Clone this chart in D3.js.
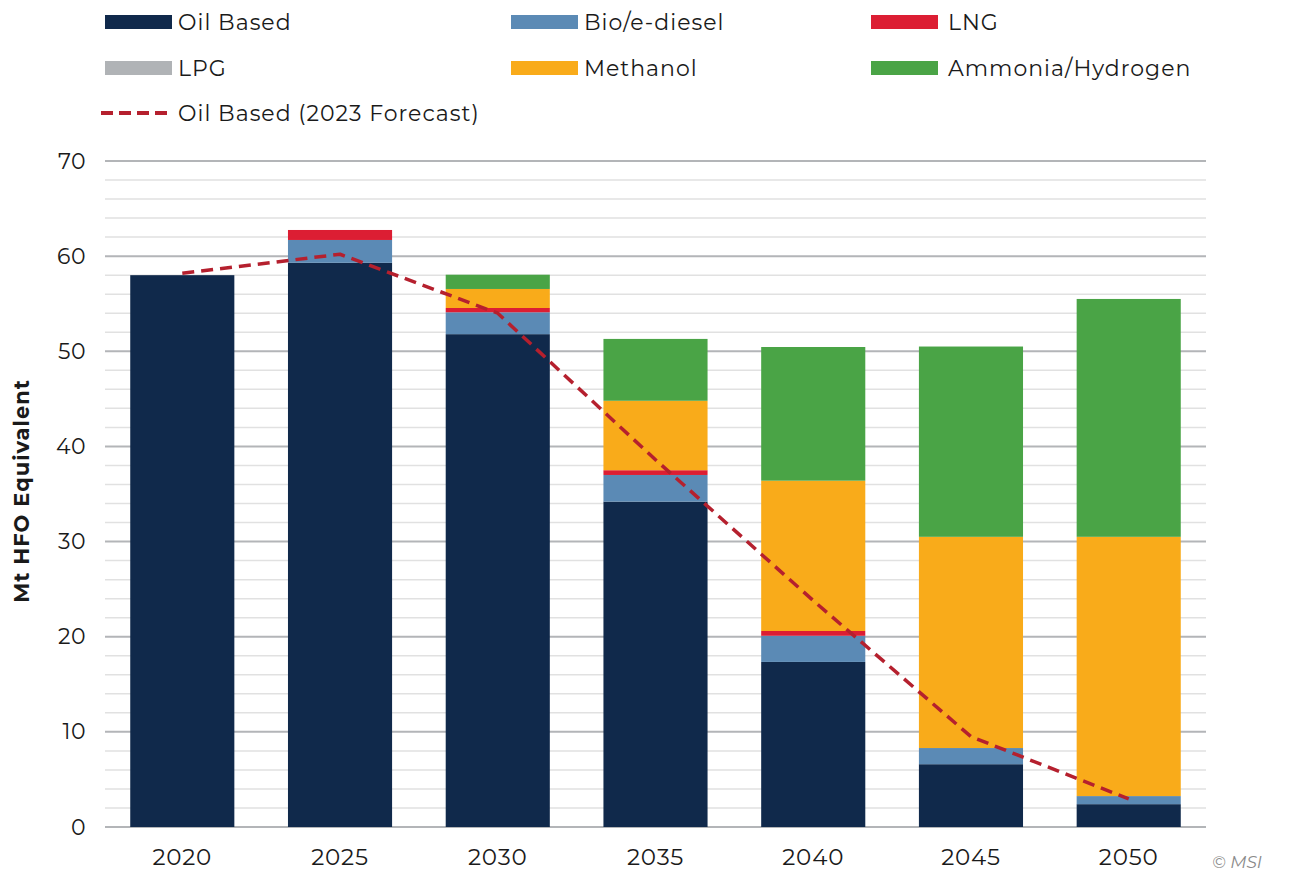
<!DOCTYPE html>
<html>
<head>
<meta charset="utf-8">
<script src="https://cdn.jsdelivr.net/npm/d3@7"></script>
<style>
  body { margin: 0; background: #fff; }
  svg text { font-family: "Montserrat", "Lato", "Open Sans", sans-serif; fill: #1a1a1a; }
</style>
</head>
<body>
<svg id="chart" width="1290" height="872"></svg>
<script>
"use strict"

// categories
const years = ["2020", "2025", "2030", "2035", "2040", "2045", "2050"]

// stacked series values (Mt HFO equivalent)
const oilBased  = [58.0, 59.3, 51.8, 34.2, 17.35, 6.6, 2.4]
const bioDiesel = [0, 2.4, 2.3, 2.8, 2.75, 1.7, 0.85]
const lng       = [0, 1.05, 0.45, 0.5, 0.5, 0, 0]
const lpg       = [0, 0, 0, 0, 0, 0, 0]
const methanol  = [0, 0, 2.0, 7.3, 15.8, 22.2, 27.25]
const ammonia   = [0, 0, 1.5, 6.5, 14.05, 20.0, 25.0]

// dashed forecast line
const oilForecast = [58.2, 60.2, 54.0, 38.6, 23.8, 9.5, 2.95]

const yTicks = [0, 10, 20, 30, 40, 50, 60, 70]

const seriesNames = ["Oil Based", "Bio/e-diesel", "LNG", "LPG", "Methanol", "Ammonia/Hydrogen"]
const seriesValues = [oilBased, bioDiesel, lng, lpg, methanol, ammonia]
const colors = ["#10294b", "#5b8ab5", "#dc1e33", "#b0b3b6", "#f9ab1a", "#4aa446"]
const lineColor = "#b5202e"

const svg = d3.select("#chart")

const margins = { top: 161, left: 105, right: 84, bottom: 45 }
const width = 1290 - margins.left - margins.right

const x = d3.scaleBand().domain(years).range([margins.left, margins.left + width]).paddingInner(0.34).paddingOuter(0.16)
const y = d3.scaleLinear().domain([0, 70]).range([827, 161])

// gridlines: minor every 2, major every 10
const minor = d3.range(2, 70, 2).filter(v => v % 10 !== 0)
svg.append("g").selectAll("line").data(minor).join("line")
    .attr("x1", margins.left).attr("x2", margins.left + width)
    .attr("y1", d => y(d)).attr("y2", d => y(d))
    .attr("stroke", "#e1e1e1").attr("stroke-width", 1.5)
svg.append("g").selectAll("line").data(yTicks).join("line")
    .attr("x1", margins.left).attr("x2", margins.left + width)
    .attr("y1", d => y(d)).attr("y2", d => y(d))
    .attr("stroke", "#b3b5b8").attr("stroke-width", 2)

// stacked bars
const table = years.map((yr, i) => {
    const row = { year: yr }
    seriesNames.forEach((n, j) => row[n] = seriesValues[j][i])
    return row
})
const stack = d3.stack().keys(seriesNames)(table)

svg.append("g").selectAll("g").data(stack).join("g")
    .attr("fill", (d, i) => colors[i])
    .selectAll("rect").data(d => d).join("rect")
    .attr("x", d => x(d.data.year))
    .attr("width", x.bandwidth())
    .attr("y", d => y(d[1]))
    .attr("height", d => y(d[0]) - y(d[1]))

// forecast line
const line = d3.line()
    .x((d, i) => x(years[i]) + x.bandwidth() / 2)
    .y(d => y(d))
svg.append("path").datum(oilForecast)
    .attr("d", line)
    .attr("fill", "none")
    .attr("stroke", lineColor)
    .attr("stroke-width", 3.5)
    .attr("stroke-linejoin", "round")
    .attr("stroke-dasharray", "12,7")

// y axis labels
const yAxis = d3.axisLeft(y).tickValues(yTicks).tickSize(0).tickPadding(19)
const yg = svg.append("g").attr("transform", `translate(${margins.left},0)`).call(yAxis)
yg.select(".domain").remove()
yg.selectAll("text").style("font-size", "22px").style("letter-spacing", "0.5px").attr("fill", "#1a1a1a")

// x axis labels
const xAxis = d3.axisBottom(x).tickSize(0).tickPadding(22)
const xg = svg.append("g").attr("transform", "translate(0,827)").call(xAxis)
xg.select(".domain").remove()
xg.selectAll("text").style("font-size", "23px").style("letter-spacing", "0.8px").attr("fill", "#1a1a1a")

// y axis title
svg.append("text")
    .attr("transform", "translate(29,491) rotate(-90)")
    .attr("text-anchor", "middle")
    .style("font-size", "21px")
    .style("font-weight", "bold")
    .style("letter-spacing", "1px")
    .text("Mt HFO Equivalent")

// legend
const legendPos = [[105, 22], [511, 22], [871, 22], [105, 68], [511, 68], [871, 68]]
seriesNames.forEach((n, i) => {
    const [lx, ly] = legendPos[i]
    svg.append("rect").attr("x", lx).attr("y", ly - 7).attr("width", 67).attr("height", 14).attr("fill", colors[i])
    svg.append("text").attr("x", i % 3 === 2 ? lx + 77 : lx + 73).attr("y", ly).attr("dy", "0.35em")
        .style("font-size", "22px").style("letter-spacing", "1px").text(n)
})
svg.append("line").attr("x1", 101).attr("x2", 172).attr("y1", 113).attr("y2", 113)
    .attr("stroke", lineColor).attr("stroke-width", 4).attr("stroke-dasharray", "12,6")
svg.append("text").attr("x", 178).attr("y", 113).attr("dy", "0.35em")
    .style("font-size", "22px").style("letter-spacing", "1px").text("Oil Based (2023 Forecast)")

// copyright
svg.append("text").attr("x", 1262).attr("y", 868).attr("text-anchor", "end")
    .style("font-size", "17px").style("font-style", "italic")
    .style("fill", "#8a8a8a")
    .text("© MSI")
</script>
</body>
</html>
